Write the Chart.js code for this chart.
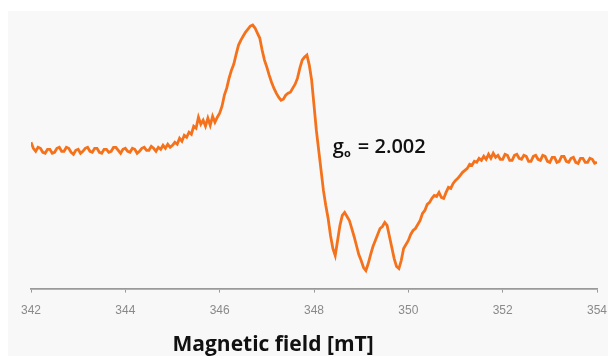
<!DOCTYPE html>
<html>
<head>
<meta charset="utf-8">
<script src="https://cdn.jsdelivr.net/npm/chart.js@4.4.1/dist/chart.umd.min.js"></script>
<style>
  html, body { margin: 0; padding: 0; background: #fff; }
  #wrap { position: absolute; left: 8px; top: 11px; width: 600px; height: 345px; background: #f8f8f8; }
</style>
</head>
<body>
<div id="wrap"><canvas id="myChart" width="600" height="345"></canvas></div>
<script>
// magnetic field, mT
const fieldMT = [
  342.00, 342.05, 342.10, 342.15, 342.20, 342.25, 342.30, 342.35, 342.40, 342.45,
  342.50, 342.55, 342.60, 342.65, 342.70, 342.75, 342.80, 342.85, 342.90, 342.95,
  343.00, 343.05, 343.10, 343.15, 343.20, 343.25, 343.30, 343.35, 343.40, 343.45,
  343.50, 343.55, 343.60, 343.65, 343.70, 343.75, 343.80, 343.85, 343.90, 343.95,
  344.00, 344.05, 344.10, 344.15, 344.20, 344.25, 344.30, 344.35, 344.40, 344.45,
  344.50, 344.55, 344.60, 344.65, 344.70, 344.75, 344.80, 344.85, 344.90, 344.95,
  345.00, 345.05, 345.10, 345.15, 345.20, 345.25, 345.30, 345.35, 345.40, 345.45,
  345.50, 345.55, 345.60, 345.65, 345.70, 345.75, 345.80, 345.85, 345.90, 345.95,
  346.00, 346.05, 346.10, 346.15, 346.20, 346.25, 346.30, 346.35, 346.40, 346.45,
  346.50, 346.55, 346.60, 346.65, 346.70, 346.75, 346.80, 346.85, 346.90, 346.95,
  347.00, 347.05, 347.10, 347.15, 347.20, 347.25, 347.30, 347.35, 347.40, 347.45,
  347.50, 347.55, 347.60, 347.65, 347.70, 347.75, 347.80, 347.85, 347.90, 347.95,
  348.00, 348.05, 348.10, 348.15, 348.20, 348.25, 348.30, 348.35, 348.40, 348.45,
  348.50, 348.55, 348.60, 348.65, 348.70, 348.75, 348.80, 348.85, 348.90, 348.95,
  349.00, 349.05, 349.10, 349.15, 349.20, 349.25, 349.30, 349.35, 349.40, 349.45,
  349.50, 349.55, 349.60, 349.65, 349.70, 349.75, 349.80, 349.85, 349.90, 349.95,
  350.00, 350.05, 350.10, 350.15, 350.20, 350.25, 350.30, 350.35, 350.40, 350.45,
  350.50, 350.55, 350.60, 350.65, 350.70, 350.75, 350.80, 350.85, 350.90, 350.95,
  351.00, 351.05, 351.10, 351.15, 351.20, 351.25, 351.30, 351.35, 351.40, 351.45,
  351.50, 351.55, 351.60, 351.65, 351.70, 351.75, 351.80, 351.85, 351.90, 351.95,
  352.00, 352.05, 352.10, 352.15, 352.20, 352.25, 352.30, 352.35, 352.40, 352.45,
  352.50, 352.55, 352.60, 352.65, 352.70, 352.75, 352.80, 352.85, 352.90, 352.95,
  353.00, 353.05, 353.10, 353.15, 353.20, 353.25, 353.30, 353.35, 353.40, 353.45,
  353.50, 353.55, 353.60, 353.65, 353.70, 353.75, 353.80, 353.85, 353.90, 353.95,
  354.00
];
// EPR signal (first derivative), arbitrary units
const signal = [
  8, 2, -1, 3, 2, -2, -3, 1, 1, -3,
  -2, 2, 3, -1, -1, 3, 2, -2, -4, 0,
  1, -3, -1, 2, 3, -1, -2, 2, 2, -2,
  -3, 1, 1, -2, -1, 3, 3, 0, -3, 1,
  2, -1, -2, 2, 1, -3, -1, 2, 3, 0,
  0, 4, 2, -1, 3, 1, 5, 2, 6, 3,
  5, 8, 6, 12, 9, 15, 13, 18, 16, 24,
  22, 33, 26, 30, 24, 32, 25, 34, 28, 33,
  37, 44, 55, 62, 72, 80, 86, 96, 105, 110,
  114, 118, 121, 124, 125, 122, 117, 112, 100, 90,
  83, 75, 68, 62, 57, 53, 50, 51, 55, 57,
  58, 62, 66, 72, 82, 90, 93, 95, 85, 70,
  45, 20, 0, -20, -40, -55, -68, -85, -98, -105,
  -90, -75, -65, -62, -66, -70, -78, -86, -95, -104,
  -110, -117, -120, -113, -104, -96, -90, -84, -78, -76,
  -72, -75, -86, -97, -108, -116, -118, -110, -98, -94,
  -90, -84, -80, -78, -74, -70, -63, -60, -54, -52,
  -48, -45, -46, -42, -47, -48, -42, -37, -38, -33,
  -30, -28, -25, -22, -20, -18, -14, -15, -11, -12,
  -8, -10, -6, -9, -4, -8, -3, -7, -5, -9,
  -9, -4, -5, -10, -10, -5, -4, -8, -9, -5,
  -6, -11, -11, -6, -5, -9, -10, -5, -6, -11,
  -12, -7, -7, -12, -11, -6, -6, -11, -12, -8,
  -7, -12, -13, -8, -8, -12, -12, -8, -9, -13,
  -12
];
const axisTitle = 'Magnetic field [mT]';
const gParts = ['g', 'o', '= 2.002'];
const gAt = [348.4, -3];

const textPlugin = {
  id: 'eprText',
  afterDraw(chart) {
    const ctx = chart.ctx;
    const xs = chart.scales.x, ys = chart.scales.y;
    ctx.save();
    ctx.fillStyle = '#111';
    ctx.textBaseline = 'alphabetic';
    ctx.textAlign = 'left';
    // g-factor label
    const x0 = xs.getPixelForValue(gAt[0]);
    const y0 = ys.getPixelForValue(gAt[1]);
    ctx.font = '600 20px "Open Sans"';
    ctx.fillText(gParts[0], x0, y0);
    const gw = ctx.measureText(gParts[0]).width;
    ctx.font = '700 11px "Open Sans"';
    ctx.fillText(gParts[1], x0 + gw, y0 + 4);
    ctx.font = '600 20px "Open Sans"';
    ctx.fillText(gParts[2], x0 + 25, y0);
    // axis title
    ctx.font = 'bold 21px "Open Sans"';
    ctx.fillText(axisTitle, xs.getPixelForValue(345), chart.height - 5);
    ctx.restore();
  }
};

new Chart(document.getElementById('myChart'), {
  type: 'line',
  data: {
    datasets: [{
      data: fieldMT.map((b, i) => ({ x: b, y: signal[i] })),
      borderColor: '#f5721c',
      borderWidth: 2.8,
      pointRadius: 0,
      tension: 0,
      fill: false
    }]
  },
  options: {
    responsive: false,
    animation: false,
    layout: { padding: { left: 23, right: 11, top: 4, bottom: 27 } },
    plugins: { legend: { display: false }, tooltip: { enabled: false } },
    scales: {
      x: {
        type: 'linear',
        min: 342, max: 354,
        border: { display: true, color: '#9a9a9a', width: 1.8 },
        grid: { display: true, drawOnChartArea: false, drawTicks: true, tickLength: 4, color: '#9a9a9a' },
        ticks: { stepSize: 2, color: '#8a8a8a', padding: 11, maxRotation: 0, font: { size: 12, family: 'Liberation Sans' } },
        afterFit(scale) {
          // let layout padding alone decide the side margins
          scale.paddingLeft = 0;
          scale.paddingRight = 0;
        }
      },
      y: { display: false, min: -138, max: 135 }
    }
  },
  plugins: [textPlugin]
});
</script>
</body>
</html>
